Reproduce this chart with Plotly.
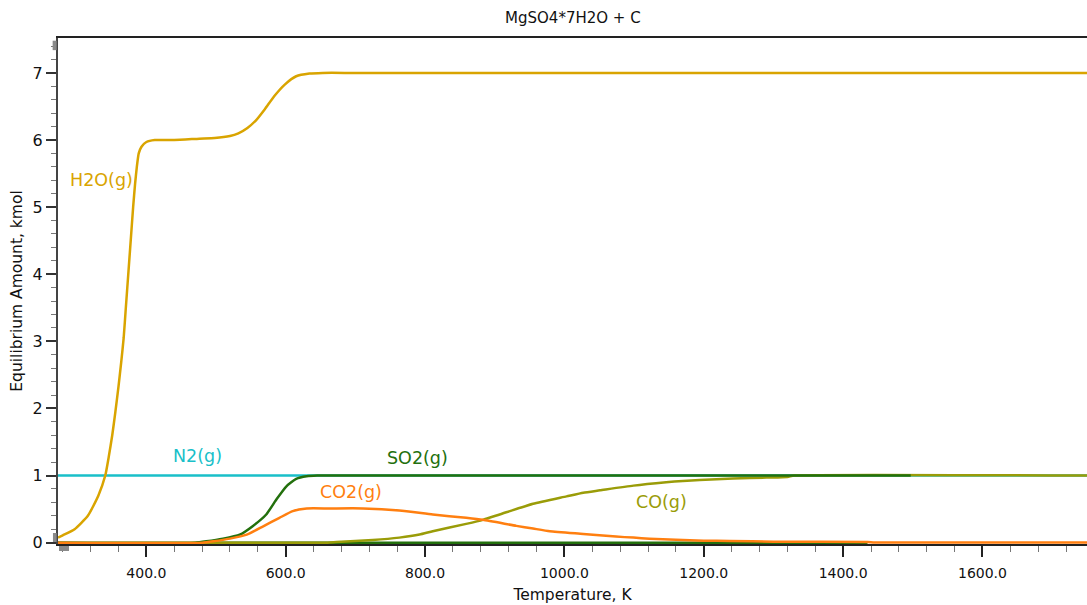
import plotly.graph_objects as go

# ---- data ----
T_H2O = [273.15, 280, 297, 316, 331, 341, 346, 351, 355.5, 360, 364, 367.4, 370.5, 374, 377.5, 381,
         383.8, 386.3, 389, 393, 400, 412, 440, 476, 498, 520, 532, 545, 557, 570, 584, 599, 615, 634, 653,
         700, 1750]
Y_H2O = [0.075, 0.11, 0.2, 0.4, 0.7, 1.0, 1.28, 1.6, 1.95, 2.33, 2.7, 3.05, 3.5, 4.0, 4.5, 5.0,
         5.35, 5.6, 5.8, 5.9, 5.97, 6.0, 6.0, 6.02, 6.03, 6.06, 6.1, 6.18, 6.29, 6.46, 6.66, 6.83, 6.95,
         6.99, 7.0, 7.0, 7.0]

T_N2 = [273.15, 1750]
Y_N2 = [1.0, 1.0]

T_SO2 = [273.15, 470, 486, 510, 534, 553, 572, 587, 601, 615, 630, 645, 1497]
Y_SO2 = [0.0, 0.0, 0.02, 0.06, 0.12, 0.25, 0.42, 0.65, 0.84, 0.95, 0.99, 1.0, 1.0]

T_CO2 = [273.15, 480, 496, 520, 544, 567, 591, 610, 630, 663, 711, 763, 811, 859, 883, 931, 955, 979,
         1027, 1074, 1099, 1122, 1160, 1200, 1237, 1300, 1435, 1445, 1750]
Y_CO2 = [0.0, 0.0, 0.02, 0.06, 0.12, 0.24, 0.37, 0.47, 0.51, 0.51, 0.51, 0.48, 0.42, 0.37, 0.34,
         0.25, 0.21, 0.17, 0.13, 0.09, 0.075, 0.06, 0.045, 0.03, 0.025, 0.015, 0.01, 0.003, 0.003]

T_CO = [273.15, 660, 673, 725, 763, 792, 811, 859, 883, 907, 955, 1003, 1027, 1051, 1099, 1146, 1170,
        1194, 1242, 1290, 1320, 1330, 1750]
Y_CO = [0.0, 0.0, 0.01, 0.04, 0.075, 0.12, 0.17, 0.28, 0.34, 0.42, 0.58, 0.69, 0.745, 0.78, 0.85, 0.90,
        0.92, 0.935, 0.955, 0.97, 0.98, 1.0, 1.0]

T_OTHER = [480, 1435]   # unlabeled dark-green species lying on the zero line
Y_OTHER = [0.0, 0.0]

LABELS = ["H2O(g)", "N2(g)", "SO2(g)", "CO2(g)", "CO(g)"]
LABEL_T = [336, 474, 789, 693, 1139]
LABEL_Y = [5.41, 1.29, 1.26, 0.75, 0.61]

TITLE = "MgSO4*7H2O + C"
X_TITLE = "Temperature, K"
Y_TITLE = "Equilibrium Amount, kmol"

# ---- styles ----
C_H2O = "#D9A400"
C_N2 = "#19BFC9"
C_SO2 = "#23700D"
C_CO2 = "#FF7F10"
C_CO = "#9A9C08"
LABEL_COLORS = [C_H2O, C_N2, C_SO2, C_CO2, C_CO]
FONT = "DejaVu Sans"

fig = go.Figure()
lw = 2.5
def line(col):
    return dict(color=col, width=lw, shape="spline", smoothing=0.5)

fig.add_trace(go.Scatter(x=T_N2, y=Y_N2, mode="lines", line=dict(color=C_N2, width=lw), name="N2(g)"))
fig.add_trace(go.Scatter(x=T_OTHER, y=Y_OTHER, mode="lines", line=dict(color=C_SO2, width=lw), name="other"))
fig.add_trace(go.Scatter(x=T_CO, y=Y_CO, mode="lines", line=line(C_CO), name="CO(g)"))
fig.add_trace(go.Scatter(x=T_SO2, y=Y_SO2, mode="lines", line=line(C_SO2), name="SO2(g)"))
fig.add_trace(go.Scatter(x=T_CO2, y=Y_CO2, mode="lines", line=line(C_CO2), name="CO2(g)"))
fig.add_trace(go.Scatter(x=T_H2O, y=Y_H2O, mode="lines", line=line(C_H2O), name="H2O(g)"))

for txt, tx, ty, col in zip(LABELS, LABEL_T, LABEL_Y, LABEL_COLORS):
    fig.add_annotation(x=tx, y=ty, text=txt, showarrow=False,
                       font=dict(family=FONT, size=17.5, color=col))

# small grey scroll handles on the axes
for x0, x1, y0, y1 in [(-0.0052, -0.0013, 0.976, 0.9947),
                       (-0.0049, -0.0013, 0.004, 0.0217),
                       (0.001, 0.0107, -0.0138, -0.004)]:
    fig.add_shape(type="rect", xref="paper", yref="paper", x0=x0, x1=x1, y0=y0, y1=y1,
                  fillcolor="#8a8a8a", line=dict(width=0), layer="above")

fig.update_layout(
    width=1087, height=605,
    margin=dict(l=58, r=0, t=38, b=61, autoexpand=False),
    paper_bgcolor="white", plot_bgcolor="white",
    showlegend=False,
    title=dict(text=TITLE, x=0.527, xanchor="center", y=0.97, yanchor="middle",
               font=dict(family=FONT, size=15, color="#111")),
    font=dict(family=FONT, size=14, color="#111"),
)
fig.update_xaxes(
    range=[273.15, 1750], showgrid=False, zeroline=False, automargin=False,
    showline=True, linecolor="#222", linewidth=2, mirror=True,
    tick0=400, dtick=200, tickformat=".1f", ticks="outside", ticklen=11, tickwidth=1.5, tickcolor="#222",
    minor=dict(tick0=400, dtick=40, ticks="outside", ticklen=6, tickcolor="#777", tickwidth=1),
    tickfont=dict(family=FONT, size=14, color="#111"), ticklabelstandoff=4,
    title=dict(text=X_TITLE, font=dict(family=FONT, size=15.5, color="#111"), standoff=9),
)
fig.update_yaxes(
    range=[-0.02, 7.52], showgrid=False, zeroline=False, automargin=False,
    showline=True, linecolor="#444", linewidth=2,
    tick0=0, dtick=1, ticks="outside", ticklen=10, tickwidth=1.5, tickcolor="#333",
    minor=dict(tick0=0, dtick=0.2, ticks="outside", ticklen=5, tickcolor="#777", tickwidth=1),
    tickfont=dict(family=FONT, size=16, color="#111"),
    title=dict(text=Y_TITLE, font=dict(family=FONT, size=15.5, color="#111"), standoff=6),
)

fig.write_html("out.html", config={"displayModeBar": False},
               post_script="document.body.style.margin='0';document.body.style.overflow='hidden';")
